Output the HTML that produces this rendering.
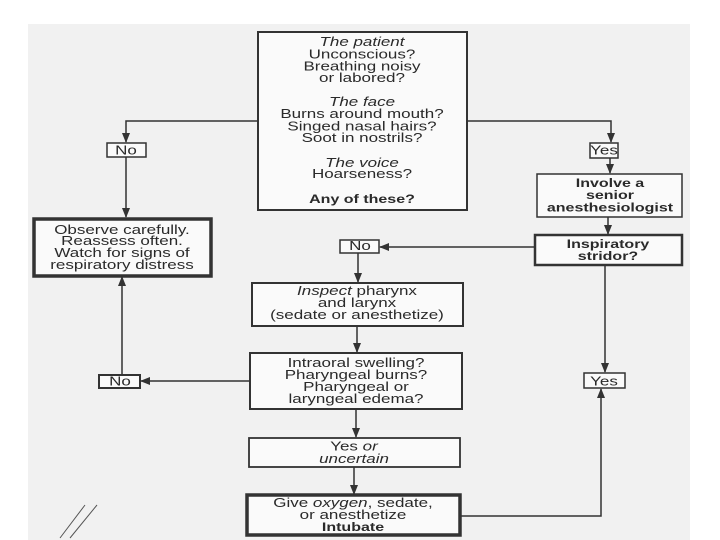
<!DOCTYPE html>
<html><head><meta charset="utf-8"><style>
html,body{margin:0;padding:0;background:#fff;}
svg{display:block;}
text{font-family:"Liberation Sans","DejaVu Sans",sans-serif;font-size:17px;fill:#2a2a2a;text-anchor:middle;}
.b{font-weight:bold;font-size:16px;}
.i{font-style:italic;}
</style></head><body>
<svg width="720" height="540" viewBox="0 0 720 540" xmlns="http://www.w3.org/2000/svg">
<defs>
<marker id="a" markerWidth="10" markerHeight="10" refX="9" refY="5" orient="auto" markerUnits="userSpaceOnUse">
<path d="M0,1 L10,5 L0,9 z" fill="#333"/></marker>
</defs>
<rect x="28" y="24" width="662" height="516" fill="#f1f1f1"/>
<g stroke="#333" stroke-width="1.5" fill="none">
<rect x="258" y="32" width="209" height="178" fill="#fafafa" stroke-width="2"/>
<rect x="34" y="219" width="177" height="57" fill="#fafafa" stroke-width="3.5"/>
<rect x="107" y="143" width="39" height="14" fill="#fafafa"/>
<rect x="590" y="143" width="28" height="15" fill="#fafafa"/>
<rect x="537" y="174" width="145" height="43" fill="#fafafa"/>
<rect x="535" y="235" width="147" height="30" fill="#fafafa" stroke-width="2.5"/>
<rect x="340" y="240" width="39" height="13" fill="#fafafa"/>
<rect x="252" y="283" width="211" height="43" fill="#fafafa" stroke-width="2"/>
<rect x="250" y="353" width="212" height="56" fill="#fafafa" stroke-width="2"/>
<rect x="99" y="375" width="41" height="13" fill="#fafafa" stroke-width="2"/>
<rect x="584" y="373" width="41" height="15" fill="#fafafa"/>
<rect x="249" y="438" width="211" height="29" fill="#fafafa" stroke-width="1.8"/>
<rect x="247" y="495" width="213" height="40" fill="#fafafa" stroke-width="3.5"/>
<polyline points="258,121 126,121 126,142" marker-end="url(#a)"/>
<polyline points="126,157 126,217" marker-end="url(#a)"/>
<polyline points="467,121 611,121 611,142" marker-end="url(#a)"/>
<polyline points="610,158 610,173" marker-end="url(#a)"/>
<polyline points="608,217 608,234" marker-end="url(#a)"/>
<polyline points="535,247 380,247" marker-end="url(#a)"/>
<polyline points="358,253 358,282" marker-end="url(#a)"/>
<polyline points="357,326 357,352" marker-end="url(#a)"/>
<polyline points="250,381 141,381" marker-end="url(#a)"/>
<polyline points="122,375 122,277" marker-end="url(#a)"/>
<polyline points="605,265 605,372" marker-end="url(#a)"/>
<polyline points="356,409 356,437" marker-end="url(#a)"/>
<polyline points="354,467 354,494" marker-end="url(#a)"/>
<polyline points="460,516 601,516 601,389" marker-end="url(#a)"/>
<path d="M60,538 L85,505 M70,538 L97,505" stroke="#555" stroke-width="1"/>
</g>
<g transform="scale(1,0.76)">
<text class="i" x="362" y="60.5">The patient</text>
<text x="362" y="77">Unconscious?</text>
<text x="362" y="93">Breathing noisy</text>
<text x="362" y="108">or labored?</text>
<text class="i" x="362" y="139.5">The face</text>
<text x="362" y="155">Burns around mouth?</text>
<text x="362" y="172">Singed nasal hairs?</text>
<text x="362" y="187">Soot in nostrils?</text>
<text class="i" x="362" y="220">The voice</text>
<text x="362" y="234">Hoarseness?</text>
<text class="b" x="362" y="267">Any of these?</text>
<text x="126" y="203">No</text>
<text x="604" y="203">Yes</text>
<text class="b" x="610" y="246">Involve a</text>
<text class="b" x="610" y="262">senior</text>
<text class="b" x="610" y="278">anesthesiologist</text>
<text x="122" y="308">Observe carefully.</text>
<text x="122" y="322.5">Reassess often.</text>
<text x="122" y="338">Watch for signs of</text>
<text x="122" y="354">respiratory distress</text>
<text class="b" x="608" y="326">Inspiratory</text>
<text class="b" x="608" y="342">stridor?</text>
<text x="360" y="329">No</text>
<text x="357" y="388"><tspan class="i">Inspect</tspan> pharynx</text>
<text x="357" y="404">and larynx</text>
<text x="357" y="419.5">(sedate or anesthetize)</text>
<text x="356" y="483">Intraoral swelling?</text>
<text x="356" y="499">Pharyngeal burns?</text>
<text x="356" y="514.5">Pharyngeal or</text>
<text x="356" y="530">laryngeal edema?</text>
<text x="120" y="507">No</text>
<text x="604" y="507">Yes</text>
<text x="354" y="593">Yes <tspan class="i">or</tspan></text>
<text class="i" x="354" y="609">uncertain</text>
<text x="353" y="667">Give <tspan class="i">oxygen</tspan>, sedate,</text>
<text x="353" y="683">or anesthetize</text>
<text class="b" x="353" y="699">Intubate</text>
</g>
</svg>
</body></html>
